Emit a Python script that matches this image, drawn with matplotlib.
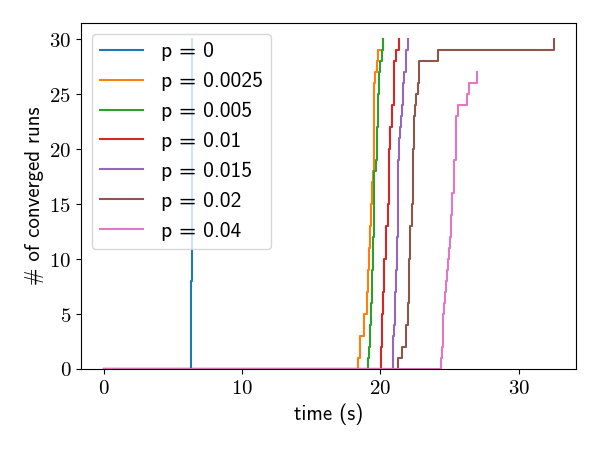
import matplotlib
matplotlib.use('Agg')
import numpy as np
import matplotlib.pyplot as plt
from matplotlib.ticker import FuncFormatter

plt.rcParams['mathtext.fontset'] = 'cm'
plt.rcParams['font.family'] = ['cmss10', 'DejaVu Sans']
plt.rcParams['axes.unicode_minus'] = False

# convergence times (s) and how many runs converged at each time
labels = ['0', '0.0025', '0.005', '0.01', '0.015', '0.02', '0.04']

t_p0 = [6.30, 6.39]
n_p0 = [8, 22]

t_p0025 = [18.36, 18.53, 18.80, 19.04, 19.08, 19.16, 19.25, 19.33, 19.40, 19.45,
           19.52, 19.57, 19.64, 19.74, 19.81, 20.17]
n_p0025 = [1, 2, 2, 2, 2, 2, 2, 2, 2, 1, 3, 5, 1, 1, 1, 1]

t_p005 = [19.09, 19.16, 19.25, 19.33, 19.40, 19.45, 19.52, 19.57, 19.69, 19.76,
          19.86, 19.93, 20.00, 20.10, 20.22]
n_p005 = [1, 1, 2, 2, 3, 3, 2, 4, 1, 3, 3, 2, 1, 1, 1]

t_p01 = [20.02, 20.10, 20.16, 20.23, 20.30, 20.45, 20.55, 20.60, 20.65, 20.72,
         20.82, 20.88, 20.96, 21.02, 21.12, 21.34]
n_p01 = [2, 1, 2, 2, 3, 3, 2, 4, 1, 2, 1, 1, 2, 2, 1, 1]

t_p015 = [20.89, 20.96, 21.06, 21.11, 21.18, 21.25, 21.30, 21.37, 21.44, 21.51,
          21.59, 21.66, 21.73, 21.83, 21.88, 21.98]
n_p015 = [3, 1, 3, 2, 3, 5, 2, 2, 1, 1, 1, 2, 1, 1, 1, 1]

t_p02 = [21.25, 21.54, 21.85, 22.02, 22.10, 22.17, 22.26, 22.34, 22.38, 22.46,
         22.53, 22.60, 22.70, 22.82, 24.14, 32.52]
n_p02 = [1, 1, 2, 2, 4, 3, 2, 2, 3, 3, 1, 1, 1, 2, 1, 1]

t_p04 = [24.38, 24.45, 24.55, 24.62, 24.70, 24.74, 24.82, 24.89, 24.94, 25.01,
         25.10, 25.20, 25.30, 25.45, 25.63, 26.26, 26.43, 26.98]
n_p04 = [1, 1, 3, 1, 1, 1, 1, 1, 1, 1, 2, 2, 3, 4, 1, 1, 1, 1]

times = [t_p0, t_p0025, t_p005, t_p01, t_p015, t_p02, t_p04]
counts = [n_p0, n_p0025, n_p005, n_p01, n_p015, n_p02, n_p04]

fig = plt.figure(figsize=(6, 4.5), dpi=100)
ax = fig.add_subplot(111)
fig.subplots_adjust(left=0.135, right=0.96, top=0.949, bottom=0.18)

for lab, t, n in zip(labels, times, counts):
    x = np.concatenate([[0.0], t])
    y = np.concatenate([[0], np.cumsum(n)])
    ax.plot(x, y, drawstyle='steps-post', label='p = ' + lab)

ax.set_ylim(bottom=0)
ax.set_xticks([0, 10, 20, 30])
ax.set_yticks([0, 5, 10, 15, 20, 25, 30])
fmt = FuncFormatter(lambda v, pos: f'${v:g}$')
ax.xaxis.set_major_formatter(fmt)
ax.yaxis.set_major_formatter(fmt)
ax.tick_params(labelsize=15)

ax.set_xlabel('time (s)', fontsize=15)
ax.set_ylabel('# of converged runs', fontsize=15)
ax.legend(loc='upper left', fontsize=15.5)

fig.savefig('out.png', dpi=100)
